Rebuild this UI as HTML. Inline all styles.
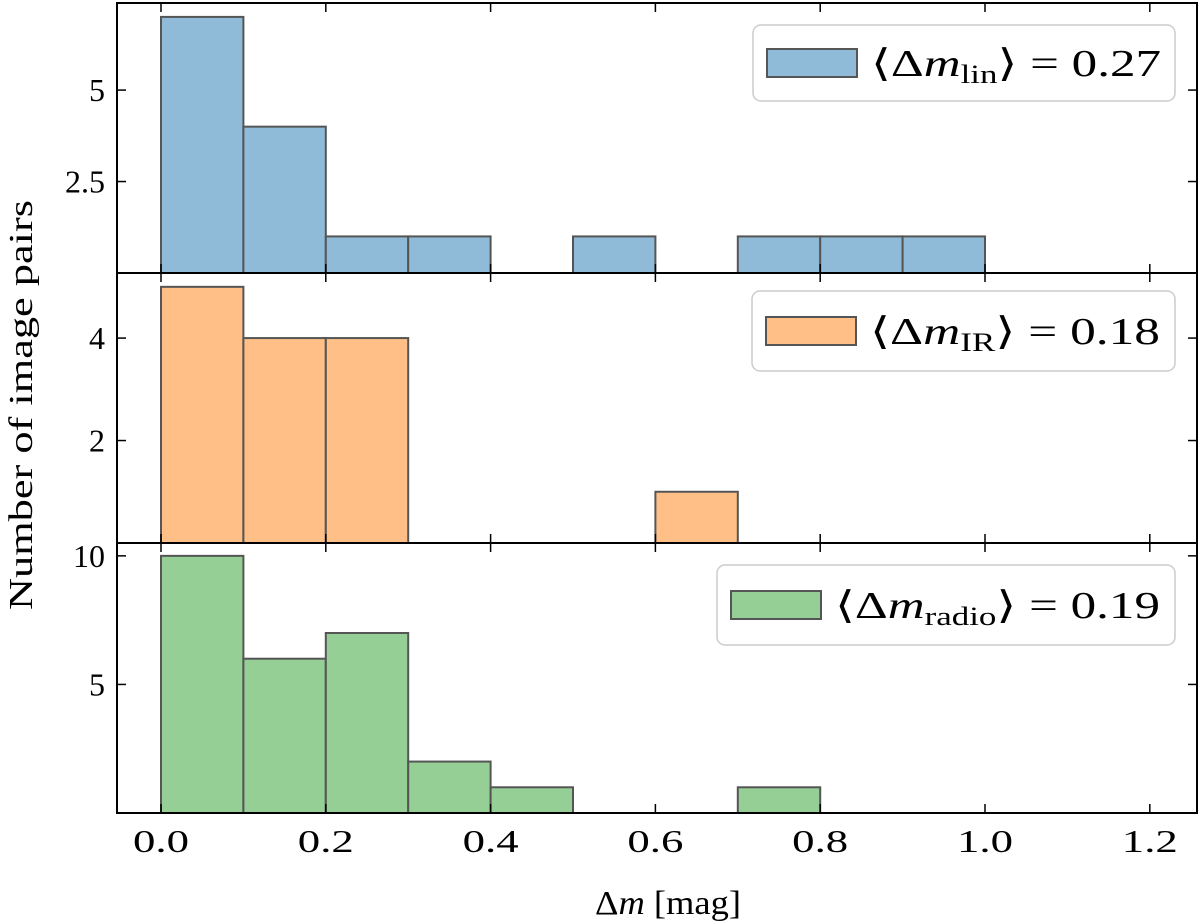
<!DOCTYPE html>
<html><head><meta charset="utf-8"><style>
body{margin:0;background:#fff;}
svg{display:block;font-family:"Liberation Serif","DejaVu Serif",serif;}
</style></head><body>
<svg id="chart" width="1200" height="924" viewBox="0 0 1200 924"></svg>
<script>
const binEdges = [0,0.1,0.2,0.3,0.4,0.5,0.6,0.7,0.8,0.9,1.0];
const countsLin = [7,4,1,1,0,1,0,1,1,1];
const countsIR = [5,4,4,0,0,0,1,0,0,0];
const countsRadio = [10,6,7,2,1,0,0,1,0,0];
const xTicks = [0.0,0.2,0.4,0.6,0.8,1.0,1.2];
const xTickLabels = ["0.0","0.2","0.4","0.6","0.8","1.0","1.2"];
const yTicksLin = [2.5,5];
const yTicksIR = [2,4];
const yTicksRadio = [5,10];
const meanLabels = ["lin","IR","radio"];
const meanValues = ["0.27","0.18","0.19"];

const NS="http://www.w3.org/2000/svg";
const svg=document.getElementById('chart');
function mk(tag,attrs,parent){const e=document.createElementNS(NS,tag);for(const k in attrs)e.setAttribute(k,attrs[k]);(parent||svg).appendChild(e);return e;}
const X0=117,X1=1197;
function xs(v){return 161+v*824;}
const panels=[
 {top:3,bot:273,ymax:7.38,counts:countsLin,ticks:yTicksLin,fill:"#8fbbd9",name:"lin",leg:{x:753,y:25,w:422,h:76},tl:["2.5","5"],tw:290},
 {top:273,bot:543,ymax:5.27,counts:countsIR,ticks:yTicksIR,fill:"#ffbf86",name:"ir",leg:{x:752,y:291,w:423,h:80},tl:["2","4"],tw:290},
 {top:543,bot:813,ymax:10.5,counts:countsRadio,ticks:yTicksRadio,fill:"#95cf95",name:"radio",leg:{x:717,y:565,w:458,h:80},tl:["5","10"],tw:325}
];
panels.forEach((p,pi)=>{
 const g=mk('g',{});
 
 
 const ys=v=>p.bot-v*(p.bot-p.top)/p.ymax;
 p.counts.forEach((c,i)=>{
  if(c<=0)return;
  const r=mk('rect',{x:xs(binEdges[i]),y:ys(c),width:xs(binEdges[i+1])-xs(binEdges[i]),height:p.bot-ys(c),fill:p.fill,stroke:"#555",'stroke-width':2},g);
  
  
 });
 xTicks.forEach(t=>{
  mk('line',{x1:xs(t),x2:xs(t),y1:p.bot,y2:p.bot-9,stroke:"#000",'stroke-width':1.5},g);
  mk('line',{x1:xs(t),x2:xs(t),y1:p.top,y2:p.top+9,stroke:"#000",'stroke-width':1.5},g);
 });
 p.ticks.forEach((t,i)=>{
  mk('line',{x1:X0,x2:X0+9,y1:ys(t),y2:ys(t),stroke:"#000",'stroke-width':1.5},g);
  mk('line',{x1:X1,x2:X1-9,y1:ys(t),y2:ys(t),stroke:"#000",'stroke-width':1.5},g);
  const tx=mk('text',{x:X0-12,y:ys(t)+11,'text-anchor':'end','font-size':32},g);
  tx.textContent=p.tl[i];
  
  
 });
 mk('rect',{x:X0,y:p.top,width:X1-X0,height:p.bot-p.top,fill:"none",stroke:"#000",'stroke-width':2},g);
 const L=p.leg;
 const lg=mk('g',{},g);
 
 
 mk('rect',{x:L.x,y:L.y,width:L.w,height:L.h,rx:8,fill:"#fff",stroke:"#ccc",'stroke-width':1.5},lg);
 mk('rect',{x:L.x+14,y:L.y+L.h/2-14,width:90,height:28,fill:p.fill,stroke:"#555",'stroke-width':2},lg);
 const t=mk('text',{x:L.x+118,y:L.y+L.h/2+13,'font-size':38,textLength:p.tw,lengthAdjust:'spacingAndGlyphs'},lg);
 t.innerHTML='⟨Δ<tspan font-style="italic">m</tspan><tspan font-size="26" dy="7">'+meanLabels[pi]+'</tspan><tspan dy="-7">⟩ = '+meanValues[pi]+'</tspan>';
});
xTicks.forEach((t,i)=>{
 const tx=mk('text',{x:xs(t),y:852,'text-anchor':'middle','font-size':32,textLength:56,lengthAdjust:'spacingAndGlyphs'});
 tx.textContent=xTickLabels[i];
 
 
});
const xl=mk('text',{x:668,y:914,'text-anchor':'middle','font-size':34,textLength:146,lengthAdjust:'spacingAndGlyphs'});
xl.innerHTML='Δ<tspan font-style="italic">m</tspan> [mag]';


const yl=mk('text',{x:0,y:0,'text-anchor':'middle','font-size':34,textLength:410,lengthAdjust:'spacingAndGlyphs',transform:'translate(32,405) rotate(-90)'});
yl.textContent='Number of image pairs';


</script>
</body></html>
